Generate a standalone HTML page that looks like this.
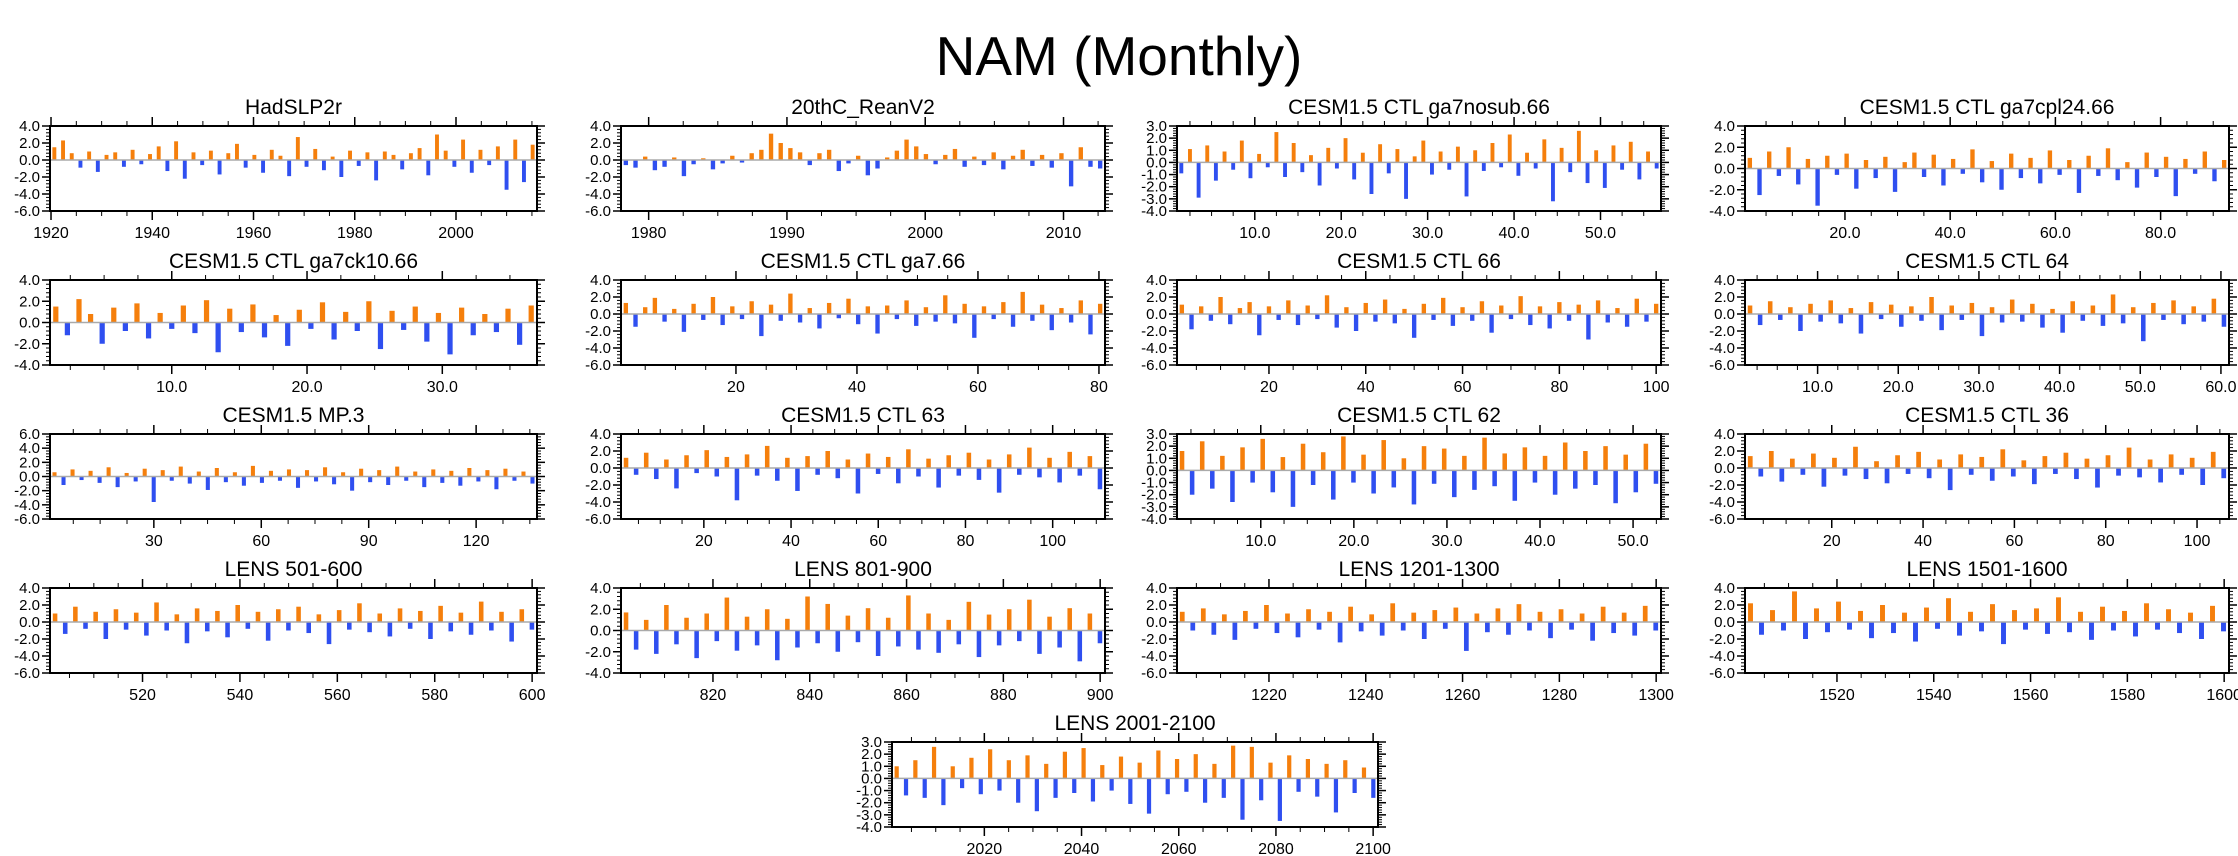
<!DOCTYPE html>
<html><head><meta charset="utf-8"><style>
html,body{margin:0;padding:0;background:#fff;}
body{width:2238px;height:856px;overflow:hidden;position:relative;font-family:"Liberation Sans",sans-serif;}
#main-title{position:absolute;left:0;width:2238px;top:24px;text-align:center;font-size:55px;line-height:64px;color:#000;}
svg{position:absolute;left:0;top:0;}
</style></head><body>
<div id="main-title">NAM (Monthly)</div>
<svg id="fig" width="2238" height="856"></svg>
<script>
const titles=["HadSLP2r","20thC_ReanV2","CESM1.5 CTL ga7nosub.66","CESM1.5 CTL ga7cpl24.66","CESM1.5 CTL ga7ck10.66","CESM1.5 CTL ga7.66","CESM1.5 CTL 66","CESM1.5 CTL 64","CESM1.5 MP.3","CESM1.5 CTL 63","CESM1.5 CTL 62","CESM1.5 CTL 36","LENS 501-600","LENS 801-900","LENS 1201-1300","LENS 1501-1600","LENS 2001-2100"];
const yMins=[-6,-6,-4,-4,-4,-6,-6,-6,-6,-6,-4,-6,-6,-4,-6,-6,-4];
const yMaxs=[4,4,3,4,4,4,4,4,6,4,3,4,4,4,4,4,3];
const xMins=[1919.8,1978,1,1,1,1,1,1,1,1,1,1,501,801,1201,1501,2001];
const xMaxs=[2016,2013,57,93,37,81,101,61,137,112,53,107,601,901,1301,1601,2101];
const xTickLabels=[[1920,1940,1960,1980,2000],[1980,1990,2000,2010],["10.0","20.0","30.0","40.0","50.0"],["20.0","40.0","60.0","80.0"],["10.0","20.0","30.0"],[20,40,60,80],[20,40,60,80,100],["10.0","20.0","30.0","40.0","50.0","60.0"],[30,60,90,120],[20,40,60,80,100],["10.0","20.0","30.0","40.0","50.0"],[20,40,60,80,100],[520,540,560,580,600],[820,840,860,880,900],[1220,1240,1260,1280,1300],[1520,1540,1560,1580,1600],[2020,2040,2060,2080,2100]];
const d0=[1.5,2.3,0.8,-0.9,1.0,-1.4,0.6,0.9,-0.8,1.2,-0.5,0.7,1.6,-1.3,2.2,-2.2,0.9,-0.6,1.1,-1.7,0.8,1.9,-0.9,0.6,-1.5,1.2,0.5,-1.9,2.7,-0.8,1.3,-1.2,0.4,-2.0,1.1,-0.7,0.9,-2.4,1.0,0.6,-1.1,0.8,1.4,-1.8,3.0,1.1,-0.8,2.4,-1.5,1.2,-0.6,1.6,-3.5,2.4,-2.6,1.8];
const d1=[-0.6,-0.9,0.4,-1.2,-0.8,0.3,-1.9,-0.5,0.2,-1.1,-0.4,0.5,-0.3,0.8,1.2,3.1,2.0,1.4,0.9,-0.6,0.8,1.2,-1.3,-0.4,0.5,-1.8,-1.0,0.3,1.1,2.4,1.6,0.7,-0.5,0.6,1.3,-0.8,0.4,-0.6,0.9,-1.1,0.5,1.2,-0.7,0.6,-0.9,0.8,-3.1,1.5,-0.8,-1.0];
const d2=[-0.9,1.1,-2.9,1.4,-1.5,0.9,-0.6,1.8,-1.3,0.7,-0.4,2.5,-1.2,1.6,-0.8,0.6,-1.9,1.2,-0.5,2.0,-1.4,0.8,-2.6,1.5,-0.9,1.1,-3.0,0.5,1.8,-1.0,0.9,-0.6,1.3,-2.8,1.0,-0.7,1.6,-0.4,2.3,-1.1,0.8,-0.5,1.9,-3.2,1.2,-0.8,2.6,-1.7,1.0,-2.1,1.4,-0.6,1.7,-1.4,0.9,-0.5];
const d3=[1.0,-2.5,1.6,-0.7,2.0,-1.5,0.9,-3.5,1.2,-0.6,1.4,-1.9,0.8,-0.9,1.1,-2.2,0.6,1.5,-0.8,1.3,-1.6,0.9,-0.5,1.8,-1.3,0.7,-2.0,1.4,-0.9,1.0,-1.4,1.7,-0.6,0.8,-2.3,1.2,-0.7,1.9,-1.1,0.6,-1.8,1.5,-0.8,1.1,-2.6,0.9,-0.5,1.6,-1.2,0.8];
const d4=[1.5,-1.2,2.2,0.8,-2.0,1.4,-0.8,1.8,-1.5,0.9,-0.6,1.6,-1.0,2.1,-2.8,1.3,-0.9,1.7,-1.4,0.7,-2.2,1.2,-0.6,1.9,-1.6,1.0,-0.8,2.0,-2.5,1.1,-0.7,1.5,-1.8,0.9,-3.0,1.4,-1.2,0.8,-0.9,1.3,-2.1,1.6];
const d5=[1.3,-1.5,0.8,1.9,-0.9,0.6,-2.1,1.2,-0.7,2.0,-1.3,0.9,-0.6,1.5,-2.6,1.1,-0.8,2.4,-1.0,0.7,-1.7,1.3,-0.5,1.8,-1.2,0.9,-2.3,1.0,-0.6,1.6,-1.4,0.8,-0.9,2.2,-1.1,1.2,-2.8,0.9,-0.6,1.4,-1.5,2.6,-0.8,1.1,-1.9,0.7,-1.0,1.6,-2.4,1.2];
const d6=[1.1,-1.8,0.9,-0.8,2.0,-1.2,0.7,1.4,-2.5,0.9,-0.7,1.6,-1.3,1.0,-0.6,2.2,-1.6,0.8,-2.0,1.3,-0.9,1.7,-1.1,0.6,-2.8,1.2,-0.7,1.9,-1.4,0.8,-0.8,1.5,-2.2,1.0,-0.6,2.1,-1.3,0.9,-1.7,1.4,-0.8,1.1,-3.0,1.6,-1.0,0.7,-1.5,1.8,-0.9,1.2];
const d7=[1.0,-1.3,1.5,-0.7,0.8,-2.0,1.2,-0.9,1.6,-1.1,0.7,-2.3,1.4,-0.6,1.1,-1.5,0.9,-0.8,2.0,-1.9,1.0,-0.7,1.3,-2.6,0.8,-1.0,1.7,-0.9,1.2,-1.6,0.6,-2.2,1.5,-0.8,1.0,-1.4,2.3,-1.1,0.8,-3.2,1.3,-0.7,1.6,-1.2,0.9,-0.9,1.8,-1.5];
const d8=[0.6,-1.2,1.0,-0.5,0.8,-0.9,1.3,-1.5,0.5,-0.7,1.1,-3.6,0.9,-0.6,1.4,-1.0,0.7,-1.9,1.2,-0.8,0.6,-1.3,1.5,-0.9,0.8,-0.6,1.0,-1.6,0.9,-0.7,1.3,-1.1,0.6,-2.0,1.1,-0.8,0.9,-1.2,1.4,-0.6,0.7,-1.5,1.0,-0.9,0.8,-1.3,1.2,-0.7,0.9,-1.8,1.1,-0.6,0.7,-1.0];
const d9=[1.2,-0.8,1.8,-1.3,1.0,-2.4,1.5,-0.6,2.1,-1.0,1.3,-3.8,1.6,-0.9,2.6,-1.5,1.2,-2.7,1.4,-0.8,2.0,-1.2,1.0,-3.0,1.7,-0.7,1.3,-1.8,2.2,-1.0,1.1,-2.3,1.5,-0.9,1.8,-1.4,1.0,-2.9,1.6,-0.8,2.4,-1.1,1.2,-1.7,1.9,-0.9,1.4,-2.5];
const d10=[1.6,-2.0,2.4,-1.5,1.2,-2.6,1.9,-1.0,2.6,-1.8,1.1,-3.0,2.2,-1.2,1.5,-2.4,2.8,-1.0,1.3,-1.9,2.5,-1.4,1.0,-2.8,2.0,-1.1,1.8,-2.2,1.2,-1.6,2.7,-1.3,1.4,-2.5,1.9,-1.0,1.2,-2.0,2.3,-1.5,1.6,-1.2,2.0,-2.7,1.3,-1.8,2.2,-1.1];
const d11=[1.4,-1.0,2.0,-1.6,1.1,-0.8,1.7,-2.2,1.2,-0.9,2.5,-1.3,0.8,-1.8,1.5,-0.7,1.9,-1.2,1.0,-2.6,1.6,-0.8,1.3,-1.5,2.2,-1.0,0.9,-1.9,1.4,-0.7,1.8,-1.3,1.1,-2.3,1.5,-0.9,2.4,-1.1,1.0,-1.7,1.6,-0.8,1.2,-2.0,1.9,-1.2];
const d12=[1.0,-1.4,1.8,-0.8,1.2,-2.0,1.5,-0.9,1.1,-1.6,2.3,-1.0,0.9,-2.5,1.6,-1.1,1.3,-1.8,2.0,-0.8,1.2,-2.2,1.5,-1.0,1.8,-1.3,0.9,-2.6,1.4,-0.9,2.2,-1.2,1.0,-1.7,1.6,-0.8,1.3,-2.0,1.9,-1.1,1.1,-1.5,2.4,-1.0,1.2,-2.3,1.5,-0.9];
const d13=[1.7,-1.8,1.0,-2.2,2.4,-1.3,1.2,-2.6,1.6,-1.0,3.1,-1.9,1.3,-1.4,2.0,-2.8,1.1,-1.6,3.2,-1.2,2.5,-2.0,1.4,-1.1,2.1,-2.4,1.2,-1.5,3.3,-1.8,1.6,-2.1,1.0,-1.3,2.7,-2.5,1.5,-1.4,2.0,-1.0,2.9,-2.2,1.3,-1.6,2.1,-2.9,1.6,-1.2];
const d14=[1.2,-1.0,1.6,-1.5,0.9,-2.1,1.3,-0.8,2.0,-1.3,1.0,-1.8,1.5,-0.9,1.2,-2.4,1.8,-1.1,0.9,-1.6,2.2,-1.0,1.1,-2.0,1.4,-0.8,1.7,-3.4,1.0,-1.2,1.6,-1.5,2.1,-1.0,1.2,-1.9,1.5,-0.9,1.0,-2.2,1.8,-1.3,1.1,-1.6,1.9,-1.0];
const d15=[2.2,-1.5,1.4,-1.0,3.6,-2.0,1.6,-1.2,2.4,-0.9,1.3,-1.9,2.0,-1.3,1.1,-2.3,1.7,-0.8,2.8,-1.6,1.2,-1.1,2.1,-2.6,1.4,-0.9,1.6,-1.4,2.9,-1.2,1.2,-2.1,1.8,-1.0,1.3,-1.7,2.2,-0.9,1.5,-1.3,1.1,-2.0,1.9,-1.1];
const d16=[1.0,-1.4,1.5,-1.6,2.6,-2.2,1.0,-0.8,1.7,-1.3,2.4,-1.0,1.5,-2.0,1.9,-2.7,1.2,-1.6,2.2,-1.2,2.5,-1.9,1.1,-1.0,1.8,-2.1,1.3,-2.9,2.3,-1.3,1.6,-1.1,2.0,-2.0,1.2,-1.6,2.7,-3.4,2.6,-1.8,1.3,-3.5,1.9,-1.1,1.6,-1.5,1.2,-2.8,1.5,-1.2,0.9,-1.6];
const series=[d0,d1,d2,d3,d4,d5,d6,d7,d8,d9,d10,d11,d12,d13,d14,d15,d16];

const NS="http://www.w3.org/2000/svg";
const svg=document.getElementById('fig');
const colLefts=[50,621,1177,1745], rowTops=[126,280,434,588,742];
const W=484,H=85;
function mk(tag,attrs,parent){const e=document.createElementNS(NS,tag);for(const k in attrs)e.setAttribute(k,attrs[k]);(parent||svg).appendChild(e);return e;}
function slug(s){return s.toLowerCase().replace(/[^a-z0-9]+/g,'-').replace(/^-|-$/g,'');}
for(let p=0;p<17;p++){
  const L=p<16?colLefts[p%4]:892, T=rowTops[Math.floor(p/4)];
  const w=p<16?(p%4===0?487:W):486;
  const g=mk('g',{});
  
  
  const y0=yMins[p],y1=yMaxs[p],x0=xMins[p],x1=xMaxs[p];
  const sx=v=>L+(v-x0)/(x1-x0)*w;
  const sy=v=>T+(y1-v)/(y1-y0)*H;
  const t=mk('text',{x:L+w/2,y:T-12,'text-anchor':'middle','font-size':21,'font-family':'Liberation Sans, sans-serif'},g);
  t.textContent=titles[p];
  
  
  const data=series[p], n=data.length, slot=(x1-x0)/n;
  const bw=Math.max(2,w/n*0.45);
  for(let i=0;i<n;i++){
    const v=data[i], xc=sx(x0+(i+0.5)*slot);
    const ya=sy(Math.max(v,0)), yb=sy(Math.min(v,0));
    const r=mk('rect',{x:xc-bw/2,y:ya,width:bw,height:Math.max(0.5,yb-ya),fill:v>=0?'#f57f0c':'#2f4ff0'},g);
    
    
  }
  mk('line',{x1:L,x2:L+w,y1:sy(0),y2:sy(0),stroke:'#aaa','stroke-width':1.5},g);
  const box=mk('rect',{x:L,y:T,width:w,height:H,fill:'none',stroke:'#000','stroke-width':2},g);
  
  
  const ystep=(y1-y0)<=7?1:2;
  for(let v=y0;v<=y1+1e-9;v+=ystep){
    const yy=sy(v);
    mk('line',{x1:L-8,x2:L,y1:yy,y2:yy,stroke:'#000','stroke-width':1.5},g);
    mk('line',{x1:L+w,x2:L+w+8,y1:yy,y2:yy,stroke:'#000','stroke-width':1.5},g);
    const lb=mk('text',{x:L-10,y:yy+5,'text-anchor':'end','font-size':15,'font-family':'Liberation Sans, sans-serif'},g);
    lb.textContent=v.toFixed(1);
    
    
    if(v<y1){for(let k=1;k<5;k++){const ym=sy(v+ystep*k/5);
      mk('line',{x1:L-4,x2:L,y1:ym,y2:ym,stroke:'#000','stroke-width':1},g);
      mk('line',{x1:L+w,x2:L+w+4,y1:ym,y2:ym,stroke:'#000','stroke-width':1},g);}}
  }
  const xl=xTickLabels[p], xv=xl.map(Number), xs=xv[1]-xv[0], minor=xs/4;
  for(let v=Math.ceil(x0/minor)*minor;v<=x1;v+=minor){
    const xx=sx(v), isMaj=Math.abs(((v-xv[0])/xs)-Math.round((v-xv[0])/xs))<1e-6;
    const len=isMaj?9:5;
    mk('line',{x1:xx,x2:xx,y1:T+H,y2:T+H+len,stroke:'#000','stroke-width':isMaj?1.5:1},g);
    mk('line',{x1:xx,x2:xx,y1:T-len,y2:T,stroke:'#000','stroke-width':isMaj?1.5:1},g);
  }
  xl.forEach((lab,i)=>{
    const tx=mk('text',{x:sx(xv[i]),y:T+H+27,'text-anchor':'middle','font-size':16,'font-family':'Liberation Sans, sans-serif'},g);
    tx.textContent=lab;
    
    
  });
}
</script>
</body></html>
